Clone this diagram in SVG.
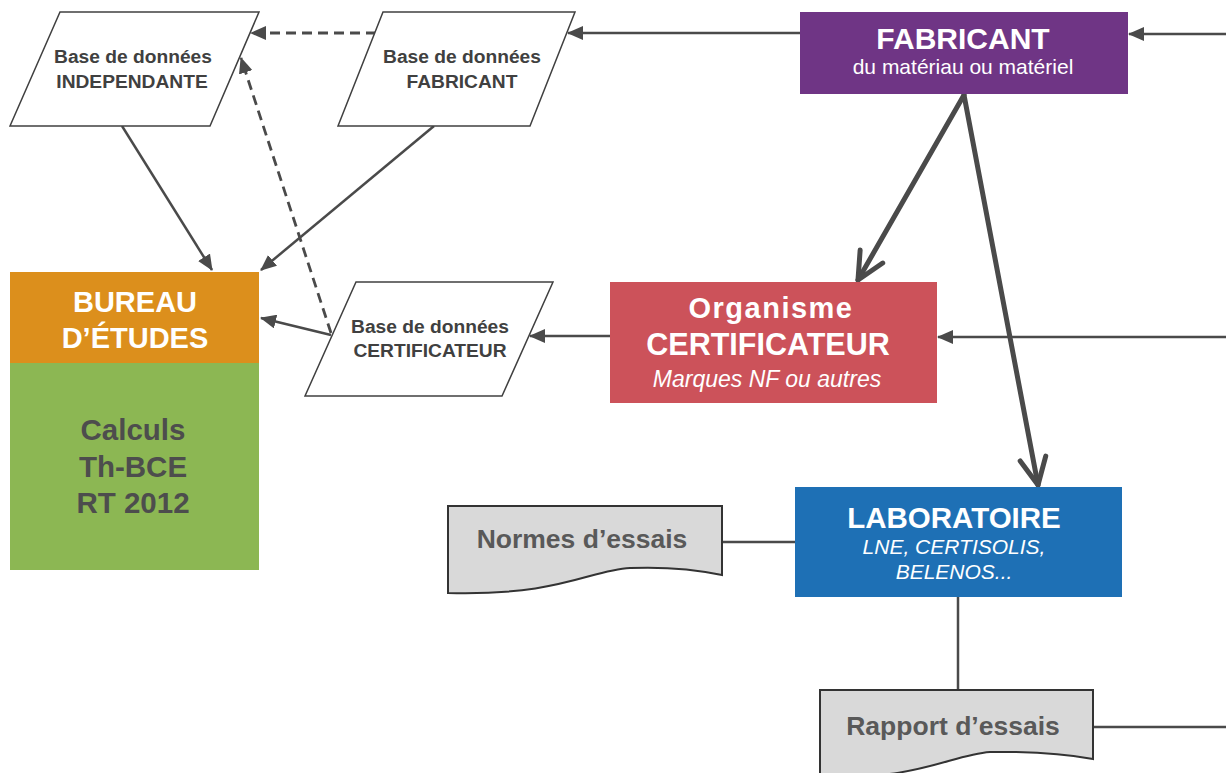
<svg xmlns="http://www.w3.org/2000/svg" width="1226" height="773" viewBox="0 0 1226 773">
<style>
text{font-family:"Liberation Sans",Arial,sans-serif;text-anchor:middle}
.para{fill:#fff;stroke:#404040;stroke-width:1.5}
.pt{font-size:19.2px;font-weight:bold;fill:#404040}
.doc{fill:#d9d9d9;stroke:#333;stroke-width:2}
.dt{font-size:26.5px;font-weight:bold;fill:#595959}
.big{font-weight:bold;fill:#fff}
.sub{fill:#fff}
.ln{stroke:#4a4a4a;stroke-width:2.5;fill:none}
.dash{stroke-width:2.8;stroke-dasharray:10,6}
.thick{stroke:#4a4a4a;stroke-width:5;fill:none;stroke-linecap:round}
</style>
<defs>
<marker id="ah" markerUnits="userSpaceOnUse" markerWidth="16" markerHeight="14" viewBox="0 0 16 14" refX="15" refY="7" orient="auto">
<path d="M0,0 L16,7 L0,14 z" fill="#4a4a4a"/>
</marker>
<marker id="av" markerUnits="userSpaceOnUse" markerWidth="36" markerHeight="36" viewBox="0 0 36 36" refX="32" refY="18" orient="auto">
<path d="M5,5 L32,18 L5,31" fill="none" stroke="#4a4a4a" stroke-width="5" stroke-linecap="round" stroke-linejoin="round"/>
</marker>
</defs>

<g id="connectors">
<path class="ln" d="M800,33 L568,33" marker-end="url(#ah)"/>
<path class="ln" d="M1226,34 L1129,34" marker-end="url(#ah)"/>
<path class="ln dash" d="M376,33 L251,33" marker-end="url(#ah)"/>
<path class="ln dash" d="M331,333 L241,58" marker-end="url(#ah)"/>
<path class="ln" d="M122,126 L212,270" marker-end="url(#ah)"/>
<path class="ln" d="M434,126 L261,270" marker-end="url(#ah)"/>
<path class="ln" d="M331,335 L261,318" marker-end="url(#ah)"/>
<path class="ln" d="M610,336 L530,336" marker-end="url(#ah)"/>
<path class="ln" d="M1226,337 L938,337" marker-end="url(#ah)"/>
<path class="thick" d="M964,95 L858,280" marker-end="url(#av)"/>
<path class="thick" d="M964,95 L1038,485" marker-end="url(#av)"/>
<path class="ln" d="M722,542 L795,542"/>
<path class="ln" d="M958,597 L958,690"/>
<path class="ln" d="M1094,727 L1226,727"/>
</g>

<g id="bdd-independante">
<polygon class="para" points="60,12 259,12 210,126 10,126"/>
<text class="pt" x="133" y="63">Base de données</text>
<text class="pt" x="132" y="88">INDEPENDANTE</text>
</g>

<g id="bdd-fabricant">
<polygon class="para" points="383,12 575,12 530,126 338,126"/>
<text class="pt" x="462" y="63">Base de données</text>
<text class="pt" x="462" y="88">FABRICANT</text>
</g>

<g id="bdd-certificateur">
<polygon class="para" points="356,282 553,282 502,396 305,396"/>
<text class="pt" x="430" y="333">Base de données</text>
<text class="pt" x="430" y="357">CERTIFICATEUR</text>
</g>

<g id="fabricant">
<rect x="800" y="12" width="328" height="82" fill="#6f3585"/>
<text class="big" x="963" y="49" font-size="30">FABRICANT</text>
<text class="sub" x="963" y="74" font-size="21">du matériau ou matériel</text>
</g>

<g id="bureau-etudes">
<rect x="10" y="272" width="249" height="91" fill="#dc8f1c"/>
<rect x="10" y="363" width="249" height="207" fill="#8cb753"/>
<text class="big" x="135" y="312" font-size="29">BUREAU</text>
<text class="big" x="135" y="348" font-size="29">D’ÉTUDES</text>
<text x="133" y="440" font-size="29.5" font-weight="bold" fill="#4d4d4d">Calculs</text>
<text x="133" y="477" font-size="29.5" font-weight="bold" fill="#4d4d4d">Th-BCE</text>
<text x="133" y="513" font-size="29.5" font-weight="bold" fill="#4d4d4d">RT 2012</text>
</g>

<g id="organisme-certificateur">
<rect x="610" y="282" width="327" height="121" fill="#cc525a"/>
<text class="big" x="771" y="318" font-size="29" letter-spacing="1.5">Organisme</text>
<text class="big" x="768" y="355" font-size="30.5">CERTIFICATEUR</text>
<text class="sub" x="767" y="387" font-size="23" font-style="italic">Marques NF ou autres</text>
</g>

<g id="laboratoire">
<rect x="795" y="487" width="327" height="110" fill="#1e70b5"/>
<text class="big" x="954" y="528" font-size="29.5">LABORATOIRE</text>
<text class="sub" x="954" y="554" font-size="21" font-style="italic">LNE, CERTISOLIS,</text>
<text class="sub" x="954" y="579" font-size="21" font-style="italic">BELENOS...</text>
</g>

<g id="normes-essais">
<path class="doc" d="M448,506 H722 V575 Q680,566 630,568 C590,570 560,596 448,593 Z"/>
<text class="dt" x="582" y="548">Normes d’essais</text>
</g>

<g id="rapport-essais">
<path class="doc" d="M820,690 H1093 V759 Q1050,751 990,752 C950,755 920,780 820,777 Z"/>
<text class="dt" x="953" y="735">Rapport d’essais</text>
</g>
</svg>
